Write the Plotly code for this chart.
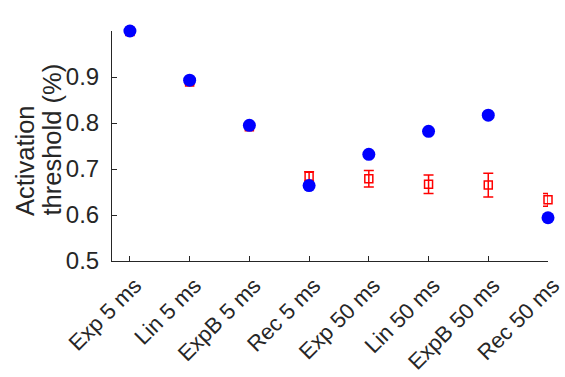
import plotly.graph_objects as go

categories = ["Exp 5 ms", "Lin 5 ms", "ExpB 5 ms", "Rec 5 ms",
              "Exp 50 ms", "Lin 50 ms", "ExpB 50 ms", "Rec 50 ms"]
blue_values = [1.000, 0.893, 0.795, 0.664, 0.732, 0.782, 0.817, 0.594]
red_values = [0.999, 0.889, 0.792, 0.684, 0.679, 0.667, 0.665, 0.633]
red_errors = [0.002, 0.004, 0.003, 0.010, 0.018, 0.020, 0.026, 0.014]
y_ticks = [0.5, 0.6, 0.7, 0.8, 0.9]
y_title_lines = ["Activation", "threshold (%)"]

xpos = list(range(1, len(categories) + 1))
axis_color = "#262626"
font_family = "Liberation Sans, Arial, Helvetica, sans-serif"
x_range = [0.7, 8.0]

fig = go.Figure()
fig.add_trace(go.Scatter(
    x=xpos, y=red_values, mode="markers", cliponaxis=False,
    marker=dict(symbol="square-open", size=8, color="red", line=dict(width=1.5, color="red")),
    error_y=dict(type="data", array=red_errors, color="red", thickness=1.5, width=5),
    showlegend=False,
))
fig.add_trace(go.Scatter(
    x=xpos, y=blue_values, mode="markers", cliponaxis=False,
    marker=dict(symbol="circle", size=13, color="blue"),
    showlegend=False,
))

fig.update_layout(
    width=565, height=377,
    margin=dict(l=112, r=17, t=31, b=116),
    paper_bgcolor="white", plot_bgcolor="white",
    font=dict(family=font_family, color=axis_color, size=22),
    xaxis=dict(
        range=x_range, tickvals=xpos, ticktext=categories,
        tickangle=-45, tickfont=dict(size=22), ticklabelstandoff=2, ticklabelshift=5,
        showgrid=False, zeroline=False, showline=True, linecolor=axis_color, linewidth=1,
        ticks="inside", ticklen=5, tickcolor=axis_color, automargin=False,
    ),
    yaxis=dict(
        range=[0.5, 1.0], tickvals=y_ticks, ticktext=[f"{v:.1f}" for v in y_ticks],
        showgrid=False, zeroline=False, showline=True, linecolor=axis_color, linewidth=1,
        ticks="inside", ticklen=5, tickcolor=axis_color, tickfont=dict(size=24),
        ticklabelstandoff=7, automargin=False,
    ),
)

# left-aligned two-line y title (lines share a common start, as in the reference)
for i, line in enumerate(y_title_lines):
    fig.add_annotation(
        text=line, textangle=-90, xref="paper", yref="paper",
        x=(24.5 + 27 * i - 112) / 436, y=(261 - 217) / 230,
        xanchor="center", yanchor="bottom", showarrow=False, borderpad=0,
        font=dict(size=25.5, color=axis_color, family=font_family),
    )

fig.write_html("out.html")
